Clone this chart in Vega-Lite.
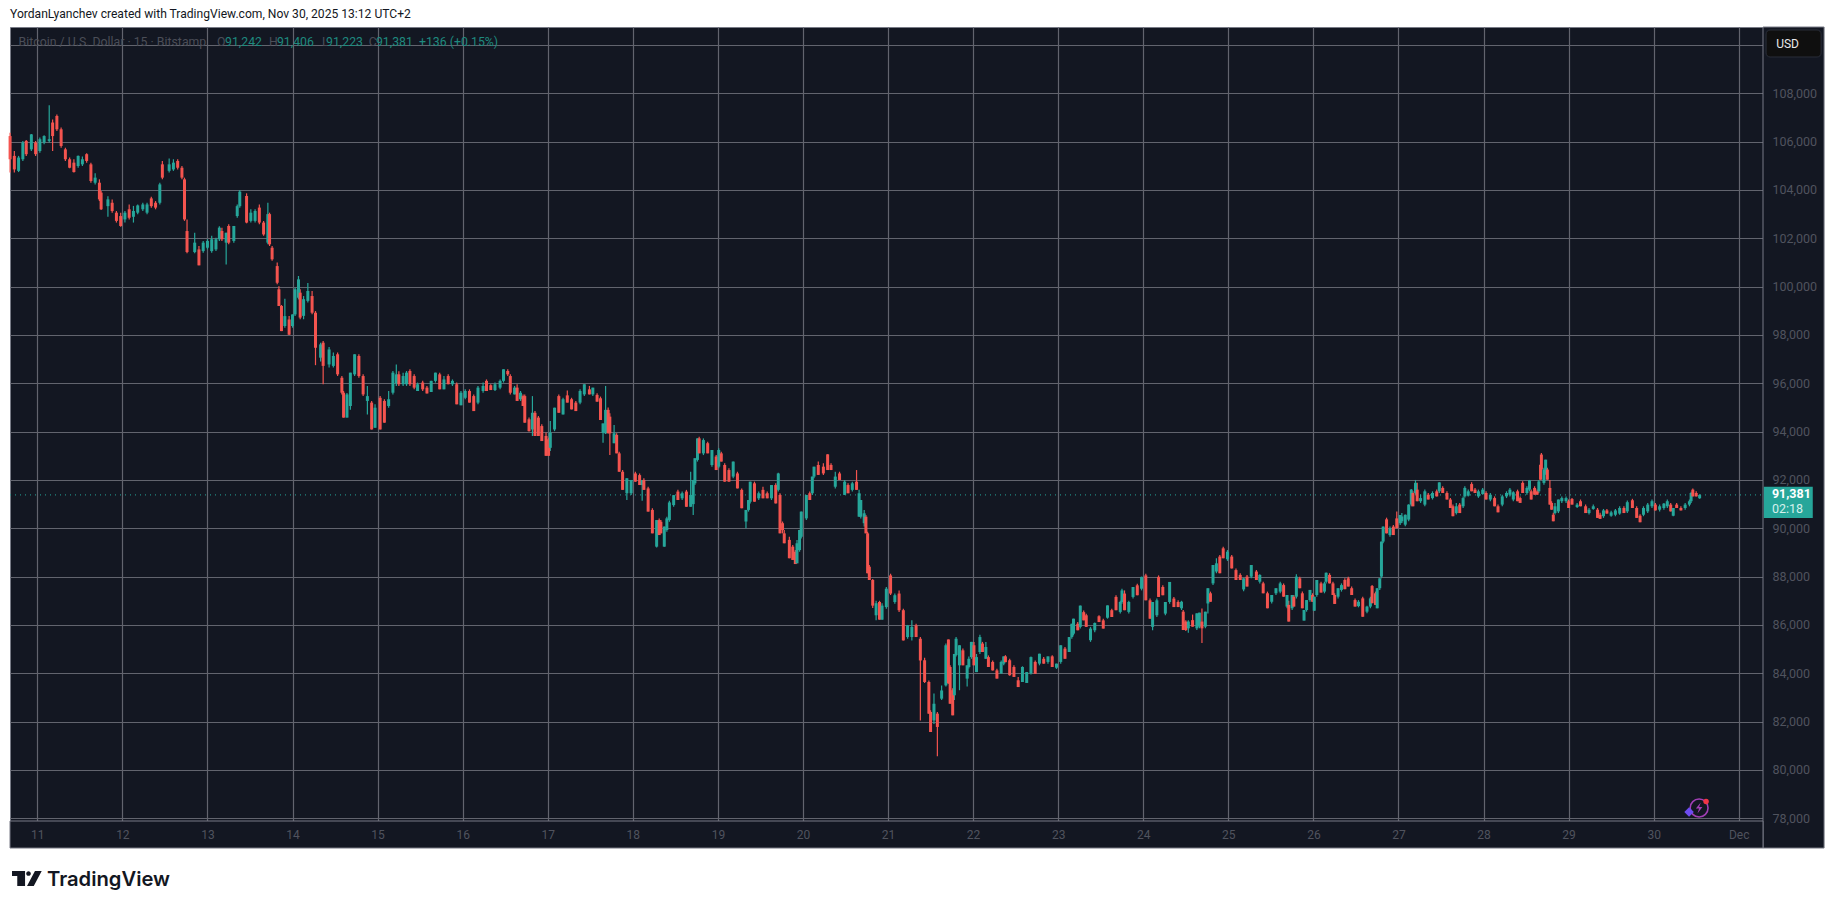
{
"$schema":"https://vega.github.io/schema/vega-lite/v6.json",
"width":1753,"height":794,"autosize":"none",
"padding":{"left":10,"top":27,"right":72,"bottom":88},
"background":"#ffffff",
"view":{"fill":"#131722","stroke":"#787b86"},
"title":{"text":"YordanLyanchev created with TradingView.com, Nov 30, 2025 13:12 UTC+2","anchor":"start","frame":"group","offset":6,"dx":0,"font":"Roboto","fontSize":12.1,"fontWeight":"normal","color":"#131722"},
"datasets":{"candles":[
{"d":10.68,"o":106230,"h":106370,"l":104720,"c":105270},
{"d":10.73,"o":105410,"h":105610,"l":104720,"c":104850},
{"d":10.78,"o":104790,"h":105410,"l":104740,"c":105340},
{"d":10.83,"o":105270,"h":106030,"l":105200,"c":105960},
{"d":10.87,"o":106030,"h":106070,"l":105410,"c":105480},
{"d":10.93,"o":105680,"h":106320,"l":105610,"c":106300},
{"d":10.98,"o":105960,"h":106030,"l":105410,"c":105480},
{"d":11.03,"o":105610,"h":106170,"l":105540,"c":106100},
{"d":11.08,"o":105960,"h":106260,"l":105890,"c":106230},
{"d":11.14,"o":106030,"h":107500,"l":105960,"c":106100},
{"d":11.18,"o":106790,"h":106920,"l":105610,"c":106230},
{"d":11.23,"o":107060,"h":107120,"l":106440,"c":106510},
{"d":11.28,"o":106510,"h":106580,"l":105750,"c":105820},
{"d":11.33,"o":105680,"h":105750,"l":105200,"c":105270},
{"d":11.38,"o":105270,"h":105340,"l":104900,"c":104920},
{"d":11.43,"o":105130,"h":105270,"l":104720,"c":104740},
{"d":11.48,"o":104990,"h":105430,"l":104920,"c":105410},
{"d":11.53,"o":105060,"h":105380,"l":104990,"c":105270},
{"d":11.58,"o":105480,"h":105520,"l":105130,"c":105200},
{"d":11.63,"o":105060,"h":105130,"l":104300,"c":104370},
{"d":11.68,"o":104300,"h":104690,"l":104230,"c":104510},
{"d":11.73,"o":104300,"h":104440,"l":103540,"c":103610},
{"d":11.75,"o":103890,"h":103960,"l":103170,"c":103200},
{"d":11.83,"o":103330,"h":103740,"l":102890,"c":103610},
{"d":11.88,"o":103470,"h":103610,"l":103060,"c":103130},
{"d":11.93,"o":103060,"h":103130,"l":102650,"c":102720},
{"d":11.98,"o":102920,"h":103060,"l":102480,"c":102510},
{"d":12.03,"o":102780,"h":103130,"l":102650,"c":103060},
{"d":12.08,"o":103200,"h":103400,"l":102780,"c":102850},
{"d":12.13,"o":102890,"h":103340,"l":102650,"c":103130},
{"d":12.18,"o":103060,"h":103400,"l":102990,"c":103360},
{"d":12.24,"o":103200,"h":103470,"l":103130,"c":103400},
{"d":12.29,"o":103060,"h":103470,"l":102990,"c":103400},
{"d":12.34,"o":103650,"h":103720,"l":103260,"c":103330},
{"d":12.39,"o":103470,"h":103540,"l":103200,"c":103270},
{"d":12.44,"o":103470,"h":104300,"l":103400,"c":104230},
{"d":12.47,"o":105060,"h":105200,"l":104440,"c":104510},
{"d":12.55,"o":104790,"h":105300,"l":104720,"c":105060},
{"d":12.6,"o":104850,"h":105270,"l":104790,"c":105130},
{"d":12.65,"o":105200,"h":105270,"l":104850,"c":104920},
{"d":12.7,"o":104920,"h":104990,"l":104440,"c":104510},
{"d":12.73,"o":104440,"h":104510,"l":102720,"c":102780},
{"d":12.76,"o":102300,"h":102780,"l":101380,"c":101430},
{"d":12.85,"o":101430,"h":102230,"l":101380,"c":101820},
{"d":12.9,"o":101540,"h":101680,"l":100880,"c":100880},
{"d":12.95,"o":101470,"h":101890,"l":101400,"c":101820},
{"d":13.0,"o":101610,"h":101960,"l":101540,"c":101890},
{"d":13.05,"o":101470,"h":102100,"l":101400,"c":101960},
{"d":13.1,"o":101540,"h":102020,"l":101470,"c":101960},
{"d":13.14,"o":101960,"h":102500,"l":101890,"c":102440},
{"d":13.17,"o":102300,"h":102440,"l":101890,"c":101960},
{"d":13.22,"o":101820,"h":102230,"l":100920,"c":102230},
{"d":13.25,"o":102510,"h":102580,"l":101750,"c":101820},
{"d":13.31,"o":101890,"h":102510,"l":101820,"c":102510},
{"d":13.35,"o":102920,"h":103400,"l":102850,"c":103330},
{"d":13.38,"o":103330,"h":104000,"l":103260,"c":103930},
{"d":13.46,"o":103750,"h":103860,"l":102620,"c":102650},
{"d":13.51,"o":102720,"h":103200,"l":102650,"c":103060},
{"d":13.56,"o":102720,"h":103200,"l":102650,"c":103130},
{"d":13.61,"o":103270,"h":103400,"l":102580,"c":102650},
{"d":13.66,"o":102650,"h":102720,"l":102100,"c":102160},
{"d":13.71,"o":101820,"h":103470,"l":101750,"c":103000},
{"d":13.73,"o":103000,"h":103060,"l":101680,"c":101750},
{"d":13.76,"o":101610,"h":101680,"l":101070,"c":101130},
{"d":13.82,"o":100850,"h":101000,"l":100100,"c":100160},
{"d":13.84,"o":99890,"h":100020,"l":99200,"c":99200},
{"d":13.87,"o":99200,"h":99240,"l":98160,"c":98160},
{"d":13.91,"o":98370,"h":99500,"l":98300,"c":98780},
{"d":13.96,"o":98640,"h":98780,"l":98000,"c":98010},
{"d":14.0,"o":98370,"h":98850,"l":98300,"c":98850},
{"d":14.03,"o":98850,"h":99950,"l":98780,"c":99890},
{"d":14.07,"o":99540,"h":100440,"l":99470,"c":100300},
{"d":14.09,"o":99750,"h":99890,"l":98650,"c":98720},
{"d":14.13,"o":98790,"h":99610,"l":98650,"c":99480},
{"d":14.18,"o":99410,"h":100150,"l":99340,"c":99820},
{"d":14.23,"o":99610,"h":99820,"l":98860,"c":98920},
{"d":14.27,"o":98920,"h":98990,"l":96750,"c":97470},
{"d":14.33,"o":97060,"h":97680,"l":96900,"c":97610},
{"d":14.36,"o":97680,"h":97750,"l":95960,"c":96720},
{"d":14.43,"o":96780,"h":97500,"l":96650,"c":97400},
{"d":14.48,"o":96720,"h":97270,"l":96650,"c":97130},
{"d":14.53,"o":97200,"h":97270,"l":96300,"c":96370},
{"d":14.58,"o":96230,"h":96300,"l":95540,"c":95610},
{"d":14.6,"o":95610,"h":95680,"l":94580,"c":94580},
{"d":14.64,"o":94580,"h":95600,"l":94580,"c":95540},
{"d":14.68,"o":95060,"h":96440,"l":94900,"c":96440},
{"d":14.73,"o":96370,"h":97200,"l":96300,"c":97200},
{"d":14.78,"o":97130,"h":97200,"l":96230,"c":96300},
{"d":14.83,"o":96300,"h":96370,"l":95470,"c":95540},
{"d":14.88,"o":95270,"h":95890,"l":94710,"c":95470},
{"d":14.93,"o":95200,"h":95270,"l":94090,"c":94090},
{"d":14.97,"o":94160,"h":95130,"l":94160,"c":94990},
{"d":15.03,"o":95400,"h":95470,"l":94090,"c":94090},
{"d":15.08,"o":95270,"h":95340,"l":94370,"c":94370},
{"d":15.13,"o":95060,"h":95680,"l":94990,"c":95340},
{"d":15.18,"o":95610,"h":96510,"l":95540,"c":96440},
{"d":15.22,"o":96000,"h":96780,"l":95890,"c":96370},
{"d":15.25,"o":96370,"h":96500,"l":95890,"c":95960},
{"d":15.3,"o":95960,"h":96440,"l":95890,"c":96300},
{"d":15.34,"o":95960,"h":96510,"l":95890,"c":96440},
{"d":15.38,"o":96510,"h":96580,"l":95890,"c":95960},
{"d":15.43,"o":96300,"h":96370,"l":95750,"c":95820},
{"d":15.47,"o":95680,"h":96030,"l":95680,"c":95960},
{"d":15.53,"o":96030,"h":96100,"l":95680,"c":95750},
{"d":15.58,"o":95820,"h":95890,"l":95580,"c":95580},
{"d":15.63,"o":95640,"h":96100,"l":95640,"c":96100},
{"d":15.68,"o":96100,"h":96440,"l":96030,"c":96440},
{"d":15.73,"o":96370,"h":96440,"l":95750,"c":95750},
{"d":15.78,"o":95750,"h":96300,"l":95750,"c":96160},
{"d":15.83,"o":96300,"h":96370,"l":95960,"c":95960},
{"d":15.88,"o":95960,"h":96160,"l":95890,"c":96100},
{"d":15.93,"o":95960,"h":96030,"l":95130,"c":95130},
{"d":15.98,"o":95090,"h":95680,"l":95090,"c":95610},
{"d":16.03,"o":95400,"h":95750,"l":95340,"c":95680},
{"d":16.08,"o":95680,"h":95750,"l":95200,"c":95200},
{"d":16.13,"o":95470,"h":95540,"l":94850,"c":94850},
{"d":16.18,"o":95200,"h":95890,"l":95130,"c":95820},
{"d":16.24,"o":95680,"h":96030,"l":95610,"c":95890},
{"d":16.28,"o":96100,"h":96160,"l":95680,"c":95680},
{"d":16.33,"o":95920,"h":95960,"l":95720,"c":95720},
{"d":16.38,"o":95720,"h":96030,"l":95680,"c":95960},
{"d":16.44,"o":95820,"h":96160,"l":95750,"c":96100},
{"d":16.48,"o":96100,"h":96580,"l":96030,"c":96580},
{"d":16.53,"o":96510,"h":96580,"l":96300,"c":96370},
{"d":16.56,"o":96300,"h":96370,"l":95540,"c":95610},
{"d":16.61,"o":95540,"h":95890,"l":95540,"c":95820},
{"d":16.64,"o":95820,"h":95960,"l":95270,"c":95270},
{"d":16.68,"o":95340,"h":95680,"l":95270,"c":95610},
{"d":16.71,"o":95470,"h":95540,"l":95060,"c":95060},
{"d":16.73,"o":95470,"h":95540,"l":94370,"c":94370},
{"d":16.78,"o":94510,"h":94580,"l":94000,"c":94020},
{"d":16.82,"o":94090,"h":95470,"l":93820,"c":94780},
{"d":16.85,"o":94780,"h":94850,"l":93820,"c":93820},
{"d":16.89,"o":94580,"h":94650,"l":93820,"c":93820},
{"d":16.93,"o":94230,"h":94300,"l":93610,"c":93610},
{"d":16.98,"o":93820,"h":93960,"l":92990,"c":93000},
{"d":17.01,"o":93680,"h":93750,"l":92990,"c":93000},
{"d":17.03,"o":93330,"h":94440,"l":93200,"c":93960},
{"d":17.08,"o":94090,"h":94990,"l":94020,"c":94990},
{"d":17.13,"o":95470,"h":95540,"l":94780,"c":94780},
{"d":17.18,"o":94710,"h":95400,"l":94710,"c":95340},
{"d":17.23,"o":95500,"h":95700,"l":95200,"c":95200},
{"d":17.28,"o":95340,"h":95400,"l":94920,"c":94920},
{"d":17.33,"o":95200,"h":95270,"l":94850,"c":94850},
{"d":17.38,"o":95200,"h":95750,"l":95130,"c":95680},
{"d":17.43,"o":95540,"h":95960,"l":95470,"c":95960},
{"d":17.49,"o":95750,"h":95890,"l":95540,"c":95540},
{"d":17.53,"o":95540,"h":95820,"l":95470,"c":95820},
{"d":17.58,"o":95520,"h":95590,"l":95240,"c":95240},
{"d":17.62,"o":95380,"h":95450,"l":94480,"c":94480},
{"d":17.65,"o":93950,"h":94340,"l":93540,"c":94340},
{"d":17.68,"o":93930,"h":95890,"l":93900,"c":94900},
{"d":17.71,"o":94900,"h":95000,"l":93930,"c":93930},
{"d":17.73,"o":94620,"h":94760,"l":93030,"c":93930},
{"d":17.78,"o":93520,"h":94270,"l":93520,"c":93930},
{"d":17.81,"o":93860,"h":93930,"l":93100,"c":93100},
{"d":17.84,"o":93100,"h":93170,"l":92340,"c":92340},
{"d":17.88,"o":92340,"h":92410,"l":91590,"c":91590},
{"d":17.93,"o":91450,"h":92070,"l":91170,"c":92070},
{"d":17.98,"o":91450,"h":92000,"l":91380,"c":92000},
{"d":18.03,"o":92270,"h":92340,"l":91930,"c":91930},
{"d":18.08,"o":92200,"h":92270,"l":91790,"c":91790},
{"d":18.11,"o":91790,"h":92000,"l":91140,"c":92000},
{"d":18.13,"o":92000,"h":92070,"l":91590,"c":91590},
{"d":18.18,"o":91650,"h":91720,"l":90690,"c":90690},
{"d":18.23,"o":90760,"h":90830,"l":89790,"c":89790},
{"d":18.28,"o":89240,"h":90340,"l":89210,"c":90340},
{"d":18.31,"o":90340,"h":90410,"l":89720,"c":89720},
{"d":18.33,"o":90270,"h":90340,"l":89790,"c":89790},
{"d":18.37,"o":89240,"h":90070,"l":89240,"c":90070},
{"d":18.4,"o":89930,"h":90480,"l":89860,"c":90410},
{"d":18.43,"o":90340,"h":91140,"l":90270,"c":91070},
{"d":18.48,"o":90960,"h":91380,"l":90890,"c":91370},
{"d":18.53,"o":91520,"h":91590,"l":91170,"c":91170},
{"d":18.58,"o":91240,"h":91520,"l":91170,"c":91450},
{"d":18.63,"o":91520,"h":91590,"l":90890,"c":90890},
{"d":18.68,"o":90890,"h":92340,"l":90890,"c":91380},
{"d":18.71,"o":91000,"h":92000,"l":90550,"c":92000},
{"d":18.73,"o":91860,"h":92900,"l":91790,"c":92900},
{"d":18.76,"o":92830,"h":93720,"l":92760,"c":93720},
{"d":18.78,"o":93720,"h":93790,"l":93100,"c":93100},
{"d":18.83,"o":93100,"h":93720,"l":93030,"c":93650},
{"d":18.88,"o":93520,"h":93580,"l":93100,"c":93100},
{"d":18.93,"o":92620,"h":93240,"l":92550,"c":93240},
{"d":18.98,"o":92970,"h":93030,"l":92410,"c":92410},
{"d":19.01,"o":92550,"h":93310,"l":92480,"c":93240},
{"d":19.04,"o":93100,"h":93170,"l":92760,"c":92760},
{"d":19.08,"o":92620,"h":92690,"l":91930,"c":91930},
{"d":19.13,"o":92410,"h":92480,"l":91930,"c":91930},
{"d":19.18,"o":92140,"h":92760,"l":92070,"c":92760},
{"d":19.23,"o":92270,"h":92340,"l":91650,"c":91650},
{"d":19.28,"o":91590,"h":91650,"l":90830,"c":90830},
{"d":19.33,"o":90280,"h":90760,"l":90000,"c":90760},
{"d":19.36,"o":90760,"h":91170,"l":90690,"c":91170},
{"d":19.38,"o":91100,"h":91930,"l":91030,"c":91930},
{"d":19.43,"o":91860,"h":91930,"l":91100,"c":91100},
{"d":19.48,"o":91240,"h":91520,"l":91170,"c":91450},
{"d":19.53,"o":91590,"h":91720,"l":91240,"c":91240},
{"d":19.58,"o":91450,"h":91520,"l":91240,"c":91240},
{"d":19.63,"o":91240,"h":91790,"l":91170,"c":91790},
{"d":19.68,"o":91790,"h":91860,"l":91030,"c":91030},
{"d":19.71,"o":91590,"h":92300,"l":91520,"c":92270},
{"d":19.73,"o":91380,"h":91450,"l":89790,"c":89790},
{"d":19.76,"o":90210,"h":90280,"l":89790,"c":89930},
{"d":19.78,"o":89790,"h":89930,"l":89380,"c":89380},
{"d":19.84,"o":89520,"h":89650,"l":88760,"c":88760},
{"d":19.88,"o":89240,"h":89310,"l":88690,"c":88690},
{"d":19.91,"o":89030,"h":89100,"l":88520,"c":88520},
{"d":19.93,"o":88550,"h":89520,"l":88550,"c":89380},
{"d":19.96,"o":89100,"h":89930,"l":89030,"c":89930},
{"d":19.98,"o":89650,"h":90690,"l":89580,"c":90690},
{"d":20.04,"o":90410,"h":91380,"l":90340,"c":91380},
{"d":20.08,"o":91450,"h":91520,"l":91170,"c":91170},
{"d":20.11,"o":91450,"h":92140,"l":91380,"c":92140},
{"d":20.13,"o":92140,"h":92550,"l":92070,"c":92550},
{"d":20.18,"o":92620,"h":92760,"l":92210,"c":92210},
{"d":20.24,"o":92550,"h":92690,"l":92210,"c":92270},
{"d":20.29,"o":93060,"h":93060,"l":92410,"c":92410},
{"d":20.33,"o":92620,"h":92690,"l":92410,"c":92410},
{"d":20.38,"o":91720,"h":92340,"l":91650,"c":92140},
{"d":20.43,"o":92270,"h":92340,"l":92000,"c":92000},
{"d":20.49,"o":91380,"h":92000,"l":91380,"c":91930},
{"d":20.53,"o":91790,"h":91860,"l":91450,"c":91450},
{"d":20.58,"o":91590,"h":91930,"l":91520,"c":91860},
{"d":20.63,"o":91930,"h":92410,"l":91590,"c":91590},
{"d":20.66,"o":90480,"h":91590,"l":90480,"c":91450},
{"d":20.68,"o":90480,"h":91170,"l":90410,"c":91170},
{"d":20.72,"o":90210,"h":90760,"l":90070,"c":90620},
{"d":20.74,"o":90480,"h":90550,"l":89790,"c":89790},
{"d":20.76,"o":89790,"h":89860,"l":88140,"c":88140},
{"d":20.78,"o":88410,"h":88480,"l":87860,"c":87860},
{"d":20.82,"o":87860,"h":87900,"l":86700,"c":86800},
{"d":20.86,"o":86400,"h":87000,"l":86200,"c":86900},
{"d":20.9,"o":86950,"h":87000,"l":86220,"c":86220},
{"d":20.93,"o":86220,"h":86900,"l":86220,"c":86800},
{"d":20.98,"o":86740,"h":87570,"l":86670,"c":87500},
{"d":21.03,"o":88050,"h":88120,"l":87240,"c":87300},
{"d":21.08,"o":86950,"h":87300,"l":86880,"c":87230},
{"d":21.13,"o":87300,"h":87430,"l":86540,"c":86610},
{"d":21.18,"o":86610,"h":86670,"l":85360,"c":85360},
{"d":21.23,"o":85500,"h":86000,"l":85430,"c":85980},
{"d":21.28,"o":85500,"h":86190,"l":85360,"c":85920},
{"d":21.33,"o":85980,"h":86050,"l":85500,"c":85500},
{"d":21.38,"o":85430,"h":85500,"l":82050,"c":84530},
{"d":21.43,"o":84540,"h":84640,"l":83600,"c":83640},
{"d":21.48,"o":83640,"h":83700,"l":82330,"c":82330},
{"d":21.5,"o":82400,"h":82470,"l":81570,"c":81570},
{"d":21.54,"o":82050,"h":83160,"l":81900,"c":82740},
{"d":21.58,"o":82330,"h":82400,"l":80570,"c":81780},
{"d":21.63,"o":82950,"h":83500,"l":82900,"c":83290},
{"d":21.68,"o":83500,"h":85230,"l":83450,"c":85160},
{"d":21.71,"o":85400,"h":85400,"l":83570,"c":83580},
{"d":21.73,"o":84260,"h":84330,"l":82740,"c":82740},
{"d":21.76,"o":83300,"h":83380,"l":82260,"c":82260},
{"d":21.78,"o":83090,"h":84800,"l":82900,"c":84800},
{"d":21.8,"o":84750,"h":85500,"l":84700,"c":85430},
{"d":21.84,"o":84330,"h":85160,"l":83300,"c":85160},
{"d":21.88,"o":84950,"h":85030,"l":84330,"c":84330},
{"d":21.93,"o":83780,"h":84330,"l":83450,"c":84330},
{"d":21.95,"o":84260,"h":84700,"l":84200,"c":84600},
{"d":21.98,"o":84670,"h":85300,"l":84600,"c":85300},
{"d":22.01,"o":85160,"h":85300,"l":84330,"c":84330},
{"d":22.04,"o":84050,"h":84800,"l":84050,"c":84670},
{"d":22.08,"o":84880,"h":85600,"l":84800,"c":85500},
{"d":22.11,"o":85230,"h":85300,"l":84880,"c":84880},
{"d":22.15,"o":84600,"h":85300,"l":84600,"c":85090},
{"d":22.18,"o":84670,"h":84740,"l":84260,"c":84260},
{"d":22.23,"o":84470,"h":84530,"l":84120,"c":84120},
{"d":22.28,"o":84120,"h":84190,"l":83780,"c":83780},
{"d":22.33,"o":83990,"h":84530,"l":83990,"c":84470},
{"d":22.36,"o":84400,"h":84700,"l":84330,"c":84700},
{"d":22.38,"o":84700,"h":84750,"l":84460,"c":84460},
{"d":22.43,"o":84540,"h":84600,"l":83900,"c":83920},
{"d":22.48,"o":84260,"h":84330,"l":83850,"c":83850},
{"d":22.53,"o":83710,"h":83850,"l":83430,"c":83430},
{"d":22.58,"o":83640,"h":84290,"l":83640,"c":84260},
{"d":22.63,"o":83600,"h":84050,"l":83600,"c":84050},
{"d":22.68,"o":84000,"h":84700,"l":83950,"c":84670},
{"d":22.73,"o":84470,"h":84530,"l":83980,"c":83980},
{"d":22.78,"o":84400,"h":84810,"l":84330,"c":84810},
{"d":22.83,"o":84600,"h":84670,"l":84400,"c":84400},
{"d":22.88,"o":84470,"h":84700,"l":84400,"c":84700},
{"d":22.93,"o":84700,"h":84750,"l":84260,"c":84260},
{"d":22.98,"o":84230,"h":84400,"l":84180,"c":84400},
{"d":23.03,"o":84470,"h":85160,"l":84400,"c":85160},
{"d":23.08,"o":85020,"h":85090,"l":84600,"c":84600},
{"d":23.13,"o":84880,"h":85500,"l":84880,"c":85500},
{"d":23.16,"o":85500,"h":86050,"l":85430,"c":86050},
{"d":23.18,"o":85640,"h":86260,"l":85570,"c":86260},
{"d":23.23,"o":86050,"h":86120,"l":85780,"c":85780},
{"d":23.26,"o":85920,"h":86810,"l":85850,"c":86800},
{"d":23.3,"o":86530,"h":86600,"l":86190,"c":86190},
{"d":23.33,"o":86400,"h":86460,"l":85920,"c":85920},
{"d":23.38,"o":85370,"h":85920,"l":85300,"c":85850},
{"d":23.43,"o":85780,"h":86100,"l":85700,"c":86080},
{"d":23.48,"o":86360,"h":86400,"l":86120,"c":86120},
{"d":23.53,"o":86190,"h":86260,"l":85850,"c":85850},
{"d":23.58,"o":86300,"h":86810,"l":86260,"c":86810},
{"d":23.63,"o":86610,"h":86670,"l":86330,"c":86330},
{"d":23.68,"o":87160,"h":87230,"l":86610,"c":86610},
{"d":23.73,"o":86540,"h":87000,"l":86470,"c":86950},
{"d":23.75,"o":86950,"h":87500,"l":86880,"c":87430},
{"d":23.78,"o":87300,"h":87430,"l":86610,"c":86610},
{"d":23.83,"o":86540,"h":87000,"l":86470,"c":86950},
{"d":23.88,"o":87160,"h":87570,"l":87090,"c":87570},
{"d":23.93,"o":87640,"h":87710,"l":87230,"c":87230},
{"d":23.98,"o":87500,"h":88000,"l":87430,"c":87990},
{"d":24.03,"o":88050,"h":88120,"l":87020,"c":87020},
{"d":24.08,"o":87020,"h":87090,"l":86260,"c":86260},
{"d":24.11,"o":85920,"h":86950,"l":85780,"c":86950},
{"d":24.16,"o":86400,"h":87090,"l":86330,"c":87020},
{"d":24.18,"o":87990,"h":88050,"l":87160,"c":87160},
{"d":24.23,"o":87570,"h":87640,"l":87230,"c":87230},
{"d":24.26,"o":86470,"h":86950,"l":86400,"c":86950},
{"d":24.31,"o":86950,"h":87780,"l":86880,"c":87780},
{"d":24.36,"o":87090,"h":87160,"l":86740,"c":86740},
{"d":24.41,"o":86950,"h":87020,"l":86740,"c":86740},
{"d":24.45,"o":86690,"h":87000,"l":86620,"c":86960},
{"d":24.47,"o":86550,"h":86620,"l":85790,"c":85790},
{"d":24.5,"o":86140,"h":86200,"l":85750,"c":85790},
{"d":24.53,"o":85860,"h":86200,"l":85680,"c":86140},
{"d":24.58,"o":86200,"h":86430,"l":85930,"c":85930},
{"d":24.63,"o":85860,"h":86480,"l":85790,"c":86480},
{"d":24.66,"o":85930,"h":86510,"l":85860,"c":86510},
{"d":24.69,"o":86140,"h":86680,"l":85250,"c":85860},
{"d":24.73,"o":85930,"h":86550,"l":85860,"c":86550},
{"d":24.76,"o":86890,"h":87520,"l":86470,"c":87520},
{"d":24.79,"o":87310,"h":87380,"l":86960,"c":86960},
{"d":24.82,"o":87720,"h":88480,"l":87650,"c":88480},
{"d":24.86,"o":88210,"h":88760,"l":88140,"c":88550},
{"d":24.9,"o":88830,"h":88900,"l":88140,"c":88140},
{"d":24.94,"o":89170,"h":89240,"l":88760,"c":88760},
{"d":24.99,"o":88720,"h":89100,"l":88650,"c":89030},
{"d":25.04,"o":88830,"h":88900,"l":88340,"c":88340},
{"d":25.09,"o":88270,"h":88340,"l":87860,"c":87860},
{"d":25.14,"o":88070,"h":88140,"l":87860,"c":87860},
{"d":25.18,"o":87470,"h":87930,"l":87400,"c":87930},
{"d":25.22,"o":88000,"h":88070,"l":87590,"c":87590},
{"d":25.27,"o":88000,"h":88480,"l":87930,"c":88480},
{"d":25.33,"o":88210,"h":88270,"l":87860,"c":87860},
{"d":25.37,"o":87790,"h":88100,"l":87720,"c":88070},
{"d":25.41,"o":87720,"h":87790,"l":87310,"c":87310},
{"d":25.46,"o":87310,"h":87380,"l":86690,"c":86690},
{"d":25.51,"o":86960,"h":87240,"l":86890,"c":87240},
{"d":25.56,"o":87310,"h":87520,"l":87240,"c":87520},
{"d":25.61,"o":87380,"h":87790,"l":87310,"c":87720},
{"d":25.65,"o":87650,"h":87720,"l":87170,"c":87170},
{"d":25.69,"o":86760,"h":87240,"l":86690,"c":87240},
{"d":25.71,"o":86830,"h":87000,"l":86140,"c":86140},
{"d":25.75,"o":86690,"h":87240,"l":86620,"c":87240},
{"d":25.77,"o":87170,"h":87240,"l":86760,"c":86760},
{"d":25.8,"o":87170,"h":88100,"l":87100,"c":88000},
{"d":25.84,"o":87930,"h":88000,"l":87520,"c":87520},
{"d":25.87,"o":87310,"h":87380,"l":86690,"c":86690},
{"d":25.89,"o":86180,"h":86620,"l":86180,"c":86620},
{"d":25.92,"o":86620,"h":87030,"l":86550,"c":87030},
{"d":25.96,"o":87030,"h":87450,"l":86960,"c":87450},
{"d":25.99,"o":87240,"h":87310,"l":86960,"c":86960},
{"d":26.01,"o":86590,"h":87170,"l":86590,"c":87170},
{"d":26.04,"o":87240,"h":87860,"l":87170,"c":87860},
{"d":26.09,"o":87720,"h":87790,"l":87340,"c":87340},
{"d":26.13,"o":87380,"h":87790,"l":87310,"c":87720},
{"d":26.15,"o":87790,"h":88170,"l":87720,"c":88160},
{"d":26.19,"o":88070,"h":88140,"l":87720,"c":87720},
{"d":26.23,"o":87720,"h":87790,"l":87240,"c":87240},
{"d":26.25,"o":87240,"h":87310,"l":86870,"c":86870},
{"d":26.29,"o":87170,"h":87520,"l":87100,"c":87520},
{"d":26.33,"o":87450,"h":87720,"l":87380,"c":87650},
{"d":26.37,"o":87860,"h":87930,"l":87480,"c":87480},
{"d":26.41,"o":87930,"h":88000,"l":87590,"c":87590},
{"d":26.45,"o":87520,"h":87590,"l":87240,"c":87240},
{"d":26.49,"o":87030,"h":87100,"l":86760,"c":86760},
{"d":26.53,"o":86780,"h":87030,"l":86730,"c":86960},
{"d":26.58,"o":87100,"h":87170,"l":86340,"c":86340},
{"d":26.63,"o":86550,"h":86800,"l":86480,"c":86760},
{"d":26.67,"o":86760,"h":87170,"l":86690,"c":87100},
{"d":26.69,"o":87610,"h":87650,"l":86900,"c":86900},
{"d":26.73,"o":87310,"h":87380,"l":86830,"c":86830},
{"d":26.75,"o":86690,"h":87520,"l":86690,"c":87520},
{"d":26.78,"o":87520,"h":87930,"l":87450,"c":87930},
{"d":26.8,"o":88000,"h":89450,"l":87930,"c":89450},
{"d":26.82,"o":89450,"h":90070,"l":89380,"c":90070},
{"d":26.86,"o":90370,"h":90440,"l":89790,"c":89790},
{"d":26.9,"o":89720,"h":90070,"l":89650,"c":90000},
{"d":26.94,"o":90070,"h":90140,"l":89720,"c":89720},
{"d":26.98,"o":90410,"h":90690,"l":90000,"c":90000},
{"d":27.02,"o":90210,"h":90550,"l":90140,"c":90550},
{"d":27.04,"o":90290,"h":90630,"l":90220,"c":90490},
{"d":27.08,"o":90150,"h":90570,"l":90080,"c":90560},
{"d":27.12,"o":90360,"h":91000,"l":90290,"c":90980},
{"d":27.15,"o":90980,"h":91630,"l":90910,"c":91600},
{"d":27.17,"o":91460,"h":91530,"l":90910,"c":90910},
{"d":27.2,"o":91460,"h":92000,"l":91390,"c":91880},
{"d":27.22,"o":91600,"h":91880,"l":91120,"c":91120},
{"d":27.26,"o":91120,"h":91400,"l":91050,"c":91250},
{"d":27.31,"o":90980,"h":91600,"l":90910,"c":91530},
{"d":27.35,"o":91390,"h":91460,"l":91190,"c":91190},
{"d":27.4,"o":91250,"h":91530,"l":91190,"c":91460},
{"d":27.45,"o":91530,"h":91600,"l":91320,"c":91320},
{"d":27.48,"o":91530,"h":91900,"l":91460,"c":91900},
{"d":27.52,"o":91670,"h":91740,"l":91460,"c":91460},
{"d":27.57,"o":91460,"h":91530,"l":91190,"c":91190},
{"d":27.61,"o":91190,"h":91250,"l":90840,"c":90840},
{"d":27.64,"o":90910,"h":90980,"l":90500,"c":90500},
{"d":27.68,"o":90630,"h":91050,"l":90570,"c":90910},
{"d":27.72,"o":90980,"h":91050,"l":90630,"c":90630},
{"d":27.76,"o":90910,"h":91320,"l":90840,"c":91250},
{"d":27.78,"o":91320,"h":91740,"l":91260,"c":91670},
{"d":27.82,"o":91350,"h":91600,"l":91320,"c":91530},
{"d":27.86,"o":91830,"h":91900,"l":91530,"c":91530},
{"d":27.9,"o":91600,"h":91670,"l":91460,"c":91460},
{"d":27.94,"o":91320,"h":91600,"l":91260,"c":91530},
{"d":27.99,"o":91420,"h":91670,"l":91390,"c":91600},
{"d":28.03,"o":91460,"h":91530,"l":91190,"c":91190},
{"d":28.08,"o":91190,"h":91460,"l":91120,"c":91390},
{"d":28.13,"o":91250,"h":91320,"l":90910,"c":90910},
{"d":28.17,"o":90910,"h":90980,"l":90660,"c":90660},
{"d":28.22,"o":90980,"h":91390,"l":90910,"c":91320},
{"d":28.27,"o":91320,"h":91530,"l":91250,"c":91460},
{"d":28.31,"o":91390,"h":91670,"l":91320,"c":91600},
{"d":28.35,"o":91190,"h":91530,"l":91120,"c":91490},
{"d":28.4,"o":91530,"h":91600,"l":91120,"c":91120},
{"d":28.43,"o":91250,"h":91320,"l":91050,"c":91050},
{"d":28.46,"o":91880,"h":91950,"l":91460,"c":91460},
{"d":28.51,"o":91460,"h":91740,"l":91390,"c":91670},
{"d":28.54,"o":91600,"h":92000,"l":91530,"c":91990},
{"d":28.56,"o":91530,"h":91600,"l":91190,"c":91190},
{"d":28.6,"o":91670,"h":91740,"l":91390,"c":91390},
{"d":28.63,"o":91530,"h":91600,"l":91390,"c":91390},
{"d":28.65,"o":91530,"h":92000,"l":91460,"c":91940},
{"d":28.67,"o":92630,"h":92630,"l":92010,"c":92010},
{"d":28.68,"o":93050,"h":93120,"l":92430,"c":92430},
{"d":28.71,"o":91880,"h":92500,"l":91800,"c":92430},
{"d":28.73,"o":92290,"h":92840,"l":92220,"c":92840},
{"d":28.75,"o":92430,"h":92500,"l":92010,"c":92010},
{"d":28.78,"o":91670,"h":92000,"l":90980,"c":90980},
{"d":28.8,"o":91050,"h":91120,"l":90770,"c":90770},
{"d":28.82,"o":90560,"h":90640,"l":90290,"c":90290},
{"d":28.84,"o":90630,"h":91050,"l":90570,"c":90910},
{"d":28.88,"o":90700,"h":91190,"l":90630,"c":91190},
{"d":28.92,"o":91120,"h":91320,"l":91050,"c":91250},
{"d":28.97,"o":91120,"h":91320,"l":91050,"c":91250},
{"d":29.0,"o":91120,"h":91190,"l":90840,"c":90840},
{"d":29.04,"o":91210,"h":91250,"l":90980,"c":90980},
{"d":29.1,"o":90880,"h":91050,"l":90840,"c":90980},
{"d":29.14,"o":91120,"h":91190,"l":90910,"c":90910},
{"d":29.2,"o":90910,"h":90980,"l":90630,"c":90630},
{"d":29.24,"o":90630,"h":90840,"l":90570,"c":90770},
{"d":29.29,"o":90800,"h":90980,"l":90770,"c":90910},
{"d":29.34,"o":90770,"h":90840,"l":90430,"c":90430},
{"d":29.37,"o":90560,"h":90640,"l":90380,"c":90390},
{"d":29.41,"o":90500,"h":90800,"l":90430,"c":90740},
{"d":29.45,"o":90740,"h":90800,"l":90600,"c":90610},
{"d":29.5,"o":90520,"h":90730,"l":90480,"c":90660},
{"d":29.55,"o":90560,"h":90800,"l":90500,"c":90740},
{"d":29.6,"o":90610,"h":90910,"l":90560,"c":90840},
{"d":29.65,"o":90840,"h":90910,"l":90630,"c":90630},
{"d":29.69,"o":90700,"h":91150,"l":90630,"c":91080},
{"d":29.75,"o":91160,"h":91220,"l":90840,"c":90840},
{"d":29.8,"o":90840,"h":90910,"l":90430,"c":90430},
{"d":29.84,"o":90520,"h":90580,"l":90250,"c":90250},
{"d":29.88,"o":90560,"h":90910,"l":90500,"c":90840},
{"d":29.93,"o":90700,"h":91050,"l":90630,"c":90980},
{"d":29.98,"o":90910,"h":91190,"l":90840,"c":91120},
{"d":30.02,"o":90980,"h":91050,"l":90740,"c":90740},
{"d":30.07,"o":90770,"h":90980,"l":90700,"c":90910},
{"d":30.12,"o":90840,"h":91050,"l":90770,"c":91020},
{"d":30.16,"o":90910,"h":91190,"l":90840,"c":91120},
{"d":30.2,"o":90980,"h":91050,"l":90700,"c":90700},
{"d":30.23,"o":90520,"h":90840,"l":90500,"c":90840},
{"d":30.27,"o":90980,"h":91050,"l":90840,"c":90840},
{"d":30.32,"o":90840,"h":90910,"l":90740,"c":90740},
{"d":30.37,"o":90840,"h":91050,"l":90770,"c":90980},
{"d":30.42,"o":90980,"h":91190,"l":90910,"c":91120},
{"d":30.44,"o":91120,"h":91510,"l":91050,"c":91460},
{"d":30.46,"o":91600,"h":91650,"l":91320,"c":91320},
{"d":30.5,"o":91460,"h":91530,"l":91320,"c":91320},
{"d":30.54,"o":91242,"h":91406,"l":91223,"c":91381}
]},
"encoding":{
"x":{"field":"d","type":"quantitative","scale":{"domain":[10.679,31.285],"nice":false,"zero":false},"axis":null},
"y":{"field":"p","type":"quantitative","scale":{"domain":[77888,110743],"nice":false,"zero":false},"axis":null}
},
"layer":[
{"data":{"values":[{"d":31.285,"d2":32.003,"p":76770,"p2":110743},{"d":10.679,"d2":31.285,"p":76770,"p2":77888}]},
"mark":{"type":"rect","fill":"#131722","stroke":"#787b86","strokeWidth":1},
"encoding":{
"x":{"field":"d","type":"quantitative","scale":{"domain":[10.679,31.285],"nice":false,"zero":false},"axis":{"grid":true,"gridColor":"#62646e","gridWidth":1.2,"values":[11,12,13,14,15,16,17,18,19,20,21,22,23,24,25,26,27,28,29,30,31],"labels":false,"ticks":false,"domain":false,"title":null,"orient":"bottom"}},
"x2":{"field":"d2"},
"y":{"field":"p","type":"quantitative","scale":{"domain":[77888,110743],"nice":false,"zero":false},"axis":{"grid":true,"gridColor":"#62646e","gridWidth":1.2,"values":[78000,80000,82000,84000,86000,88000,90000,92000,94000,96000,98000,100000,102000,104000,106000,108000,110000],"labels":false,"ticks":false,"domain":false,"title":null,"orient":"right"}},
"y2":{"field":"p2"}}},
{"data":{"values":[{"d":10.679,"d2":31.285,"p":91381}]},
"mark":{"type":"rule","color":"#26a69a","strokeWidth":1,"strokeDash":[1,4]},
"encoding":{"x2":{"field":"d2"}}},
{"data":{"name":"candles"},
"mark":{"type":"rule","strokeWidth":1.2},
"encoding":{
"x":{"field":"d","type":"quantitative","scale":{"domain":[10.679,31.285],"nice":false,"zero":false},"axis":{"grid":false,"values":[11,12,13,14,15,16,17,18,19,20,21,22,23,24,25,26,27,28,29,30,31],"labelExpr":"datum.value==31?'Dec':datum.value","labelColor":"#50535e","labelFont":"Roboto","labelFontSize":12,"labelPadding":8,"ticks":false,"domain":false,"title":null,"orient":"bottom","zindex":1}},
"y":{"field":"l","type":"quantitative","scale":{"domain":[77888,110743],"nice":false,"zero":false},"axis":{"grid":false,"values":[78000,80000,82000,84000,86000,88000,90000,92000,94000,96000,98000,100000,102000,104000,106000,108000],"format":",d","labelColor":"#50535e","labelFont":"Roboto","labelFontSize":12.5,"labelPadding":9,"ticks":false,"domain":false,"title":null,"orient":"right","zindex":1}},
"y2":{"field":"h"},
"color":{"condition":{"test":"datum.c>=datum.o","value":"#26a69a"},"value":"#f4544f"}}},
{"data":{"name":"candles"},
"mark":{"type":"rule","strokeWidth":3},
"encoding":{
"y":{"field":"o","type":"quantitative","scale":{"domain":[77888,110743],"nice":false,"zero":false},"axis":null},
"y2":{"field":"c"},
"color":{"condition":{"test":"datum.c>=datum.o","value":"#26a69a"},"value":"#f4544f"}}},
{"data":{"values":[{"d":31.295,"d2":31.87,"p":90426,"p2":91721}]},
"mark":{"type":"rect","fill":"#26a69a"},
"encoding":{"x2":{"field":"d2"},"y2":{"field":"p2"}}},
{"data":{"values":[{"d":31.39,"p":91419,"t":"91,381"}]},
"mark":{"type":"text","align":"left","baseline":"middle","color":"#ffffff","font":"Roboto","fontSize":12.5,"fontWeight":"bold"},
"encoding":{"text":{"field":"t"}}},
{"data":{"values":[{"d":31.39,"p":90798,"t":"02:18"}]},
"mark":{"type":"text","align":"left","baseline":"middle","color":"#d5f0ec","font":"Roboto","fontSize":12.5},
"encoding":{"text":{"field":"t"}}},
{"data":{"values":[{"d":31.321,"d2":31.968,"p":109502,"p2":110619}]},
"mark":{"type":"rect","fill":"#0f0f0f","stroke":"#2a2e39","strokeWidth":1,"cornerRadius":4},
"encoding":{"x2":{"field":"d2"},"y2":{"field":"p2"}}},
{"data":{"values":[{"d":31.44,"p":110040,"t":"USD"}]},
"mark":{"type":"text","align":"left","baseline":"middle","color":"#e8e8ea","font":"Roboto","fontSize":12},
"encoding":{"text":{"field":"t"}}},
{"data":{"values":[{"d":10.78,"p":110110,"t":"Bitcoin / U.S. Dollar · 15 · Bitstamp"},{"d":13.112,"p":110110,"t":"O"},{"d":13.723,"p":110110,"t":"H"},{"d":14.347,"p":110110,"t":"L"},{"d":14.897,"p":110110,"t":"C"}]},
"mark":{"type":"text","align":"left","baseline":"middle","color":"#4b4e58","font":"Roboto","fontSize":12.3},
"encoding":{"text":{"field":"t"}}},
{"data":{"values":[{"d":13.206,"p":110110,"t":"91,242"},{"d":13.817,"p":110110,"t":"91,406"},{"d":14.394,"p":110110,"t":"91,223"},{"d":14.98,"p":110110,"t":"91,381"},{"d":15.486,"p":110110,"t":"+136 (+0.15%)"}]},
"mark":{"type":"text","align":"left","baseline":"middle","color":"#1f8a7f","font":"Roboto","fontSize":12.3},
"encoding":{"text":{"field":"t"}}},
{"data":{"values":[{"d":11.114,"p":75446,"t":"TradingView"}]},
"mark":{"type":"text","align":"left","baseline":"middle","color":"#131722","font":"Inter","fontSize":20.2,"fontWeight":600},
"encoding":{"text":{"field":"t"}}},
{"data":{"values":[{"d":10.879,"p":75505}]},
"mark":{"type":"point","filled":true,"opacity":1,"color":"#131722","size":900,"shape":"M-1,-.5L-.13,-.5L-.13,.5L-.65,.5L-.65,-.17L-1,-.17ZM-.055,-.34a.155,.155 0 1,0 .31,0a.155,.155 0 1,0 -.31,0ZM.53,-.5L.98,-.5L.45,.5L0,.5Z"}},
{"data":{"values":[{"d":30.534,"p":78426}]},
"mark":{"type":"point","filled":false,"opacity":1,"color":"#a13fb5","strokeWidth":1.6,"size":320,"shape":"circle"}},
{"data":{"values":[{"d":30.534,"p":78426}]},
"mark":{"type":"point","filled":true,"opacity":1,"color":"#a13fb5","size":120,"shape":"M.3,-1L-.6,.1L0,.1L-.3,1L.6,-.2L0,-.2Z"}},
{"data":{"values":[{"d":30.616,"p":78695}]},
"mark":{"type":"point","filled":true,"opacity":1,"color":"#f23645","size":30,"shape":"circle"}},
{"data":{"values":[{"d":30.416,"p":78260}]},
"mark":{"type":"point","filled":true,"opacity":1,"color":"#6e4cf0","size":90,"shape":"diamond"}}
],
"resolve":{"axis":{"x":"independent","y":"independent"}}
}
